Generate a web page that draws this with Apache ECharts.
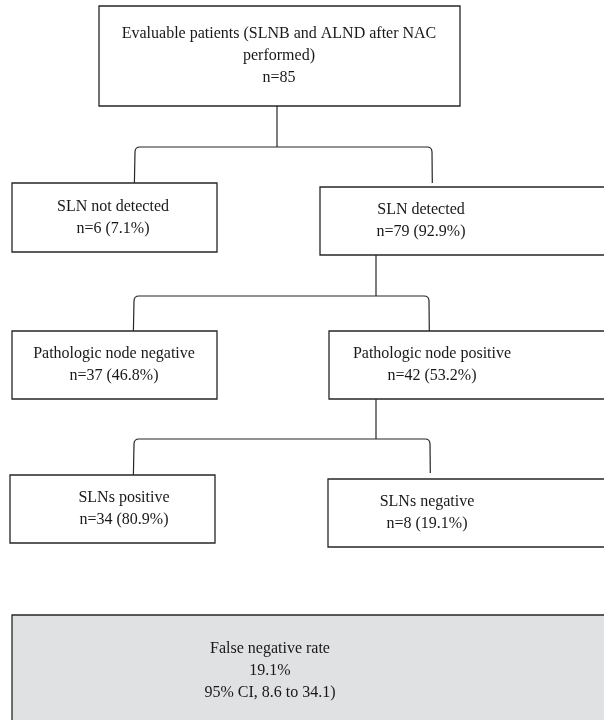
<!DOCTYPE html>
<html><head><meta charset="utf-8">
<script src="https://cdn.jsdelivr.net/npm/echarts@6/dist/echarts.min.js"></script>
<style>html,body{margin:0;padding:0;background:#fff}#c{width:604px;height:720px}</style>
</head><body><div id="c"></div>
<script>
// ---- data ----
const nodeTitles = [
  'Evaluable patients (SLNB and ALND after NAC\nperformed)',
  'SLN not detected',
  'SLN detected',
  'Pathologic node negative',
  'Pathologic node positive',
  'SLNs positive',
  'SLNs negative'
];
const nodeCounts = [85, 6, 79, 37, 42, 34, 8];
const nodePercents = [null, 7.1, 92.9, 46.8, 53.2, 80.9, 19.1];
const fnrTitle = 'False negative rate';
const fnrValue = 19.1;
const fnrCI = [8.6, 34.1];

// ---- layout (pixel space of hidden axes) ----
// [x0, y0, x1, y1, textX]
const boxLayout = [
  [99, 6, 460, 106, 279],
  [12, 183, 217, 252, 113],
  [320, 187, 640, 255, 421],
  [12, 331, 217, 399, 114],
  [329, 331, 640, 399, 432],
  [10, 475, 215, 543, 124],
  [328, 479, 640, 547, 427]
];
const fnrLayout = [12, 615, 640, 726, 270];
// [trunkX, trunkTop, barY, leftX, rightX, leftBottom, rightBottom]
const connLayout = [
  [277, 106, 147, 135, 432, 183, 183],
  [376, 255, 296, 134, 429, 331, 331],
  [376, 399, 439, 134, 430, 475, 473]
];

const FONT = '"Liberation Serif", "DejaVu Serif", serif';
const LINE = '#262626';

function nodeText(i) {
  const pct = nodePercents[i];
  return nodeTitles[i] + '\nn=' + nodeCounts[i] + (pct == null ? '' : ' (' + pct.toFixed(1) + '%)');
}

function boxElement(api, L, text, fill) {
  const p0 = api.coord([L[0], L[1]]);
  const p1 = api.coord([L[2], L[3]]);
  const tx = api.coord([L[4], (L[1] + L[3]) / 2]);
  return {
    type: 'group',
    children: [
      { type: 'rect', shape: { x: p0[0], y: p0[1], width: p1[0] - p0[0], height: p1[1] - p0[1] },
        style: { fill: fill, stroke: LINE, lineWidth: 1.3 } },
      { type: 'text', style: { text: text, x: tx[0], y: tx[1], align: 'center', verticalAlign: 'middle',
        fontFamily: FONT, fontSize: 16, lineHeight: 22, fill: '#1a1718' } }
    ]
  };
}

const chart = echarts.init(document.getElementById('c'), null, { renderer: 'canvas' });
chart.setOption({
  animation: false,
  backgroundColor: '#ffffff',
  grid: { left: 0, right: 0, top: 0, bottom: 0 },
  xAxis: { type: 'value', min: 0, max: 604, show: false },
  yAxis: { type: 'value', min: 0, max: 720, inverse: true, show: false },
  series: [
    {
      type: 'custom', clip: false,
      data: connLayout.map((c, i) => [i]),
      renderItem: function (params, api) {
        const c = connLayout[params.dataIndex];
        const r = 5;
        const P = (x, y) => api.coord([x, y]);
        const t0 = P(c[0], c[1]), t1 = P(c[0], c[2]);
        const lb = P(c[3], c[5]), lc = P(c[3], c[2] + r), lcp = P(c[3], c[2]), le = P(c[3] + r, c[2]);
        const rb = P(c[4], c[6]), rc = P(c[4], c[2] + r), rcp = P(c[4], c[2]), re = P(c[4] - r, c[2]);
        const st = { stroke: LINE, lineWidth: 1.2, fill: null };
        return {
          type: 'group',
          children: [
            { type: 'line', shape: { x1: t0[0], y1: t0[1], x2: t1[0], y2: t1[1] }, style: st },
            { type: 'line', shape: { x1: le[0], y1: le[1], x2: re[0], y2: re[1] }, style: st },
            { type: 'bezierCurve', shape: { x1: le[0], y1: le[1], cpx1: lcp[0], cpy1: lcp[1], x2: lc[0], y2: lc[1] }, style: st },
            { type: 'bezierCurve', shape: { x1: re[0], y1: re[1], cpx1: rcp[0], cpy1: rcp[1], x2: rc[0], y2: rc[1] }, style: st },
            { type: 'line', shape: { x1: lc[0], y1: lc[1], x2: lb[0] - 0.6, y2: lb[1] }, style: st },
            { type: 'line', shape: { x1: rc[0], y1: rc[1], x2: rb[0] + 0.3, y2: rb[1] }, style: st }
          ]
        };
      }
    },
    {
      type: 'custom', clip: false,
      data: nodeTitles.map((t, i) => [i]),
      renderItem: function (params, api) {
        const i = params.dataIndex;
        return boxElement(api, boxLayout[i], nodeText(i), '#ffffff');
      }
    },
    {
      type: 'custom', clip: false,
      data: [[0]],
      renderItem: function (params, api) {
        const text = fnrTitle + '\n' + fnrValue.toFixed(1) + '%\n95% CI, ' + fnrCI[0] + ' to ' + fnrCI[1] + ')';
        return boxElement(api, fnrLayout, text, '#e0e1e3');
      }
    }
  ]
});
</script>
</body></html>
